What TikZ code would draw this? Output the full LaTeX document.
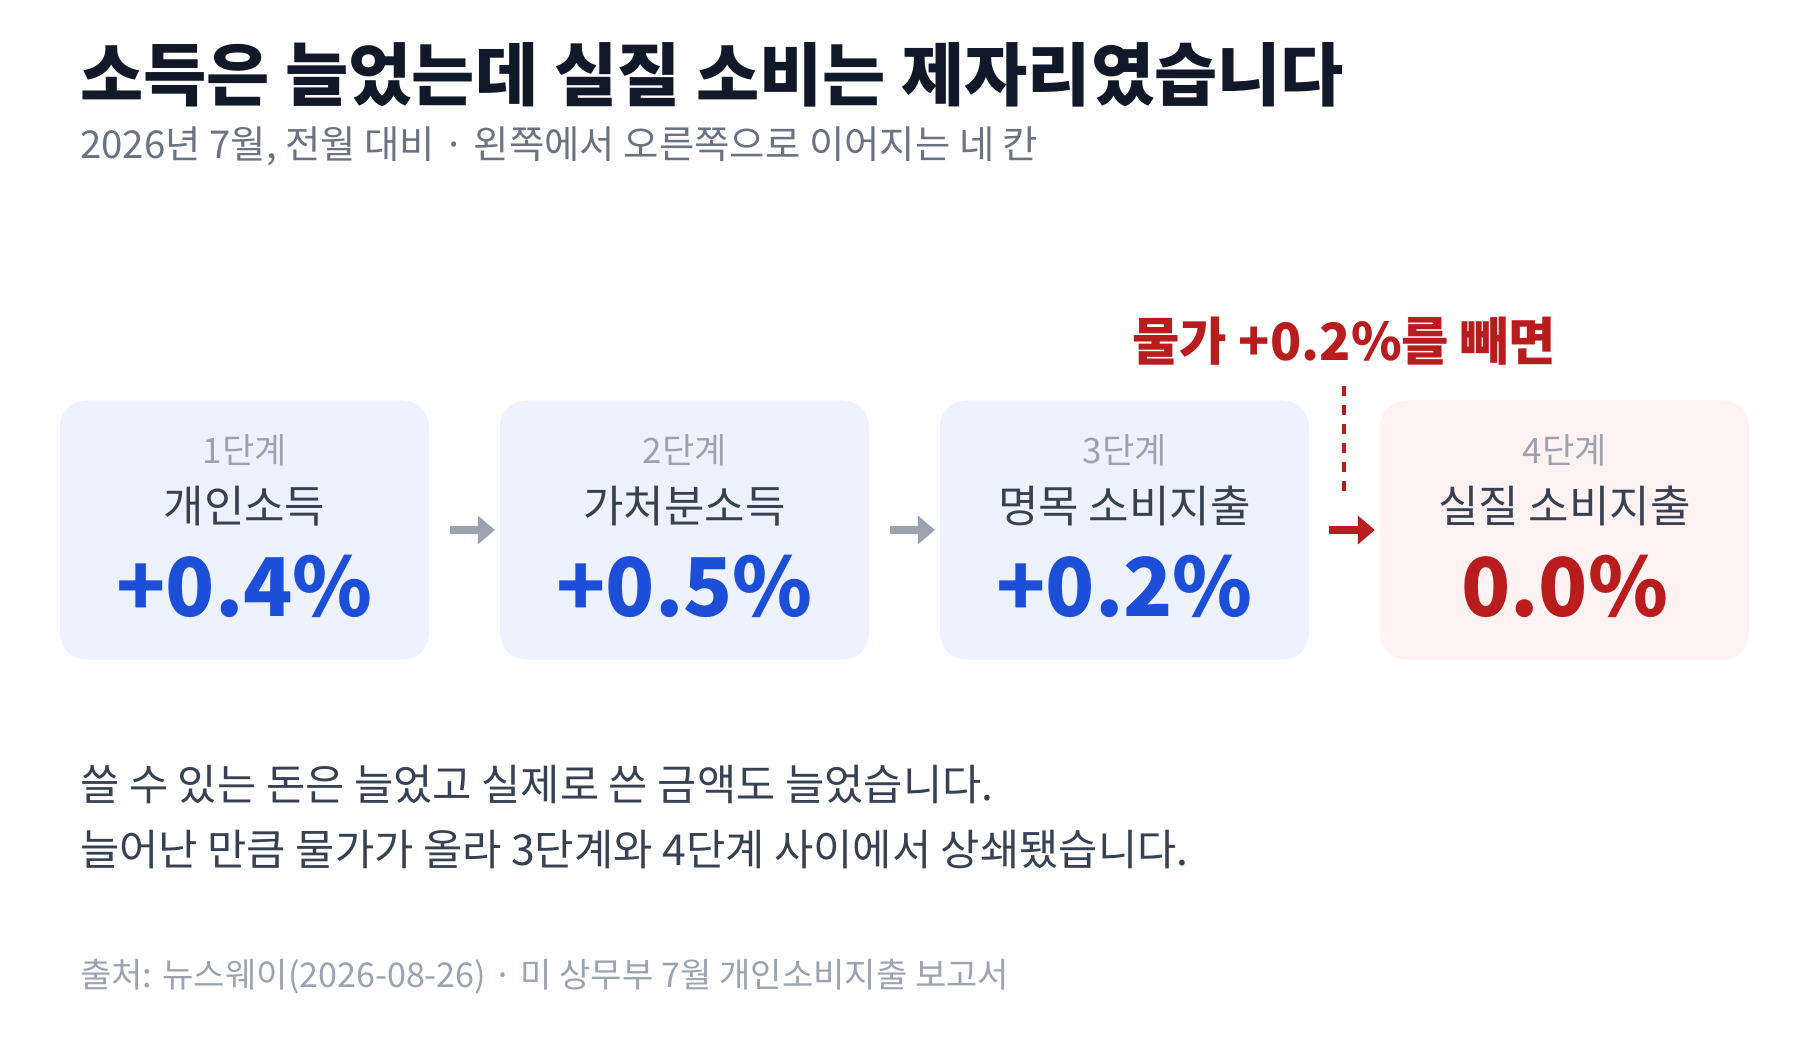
\documentclass[tikz,border=0pt]{standalone}
\usepackage{fontspec}
\setmainfont{Noto Sans CJK KR}
\usetikzlibrary{arrows.meta}
\definecolor{titlec}{HTML}{111827}
\definecolor{subc}{HTML}{6B7280}
\definecolor{bodyc}{HTML}{374151}
\definecolor{lightc}{HTML}{9CA3AF}
\definecolor{bluefill}{HTML}{EEF2FF}
\definecolor{redfill}{HTML}{FEF2F2}
\definecolor{bluec}{HTML}{1D4ED8}
\definecolor{redc}{HTML}{B91C1C}
\begin{document}
\begin{tikzpicture}[x=1pt,y=-1pt,
  card/.style={rounded corners=26pt, minimum width=369pt, minimum height=259pt, inner sep=0pt, draw=none},
  steplbl/.style={text=lightc, font=\fontsize{35}{42}\selectfont, inner sep=0pt},
  namelbl/.style={text=bodyc, font=\fontsize{44}{52}\selectfont, inner sep=0pt},
  numlbl/.style={font=\bfseries\fontsize{81}{96}\selectfont, inner sep=0pt},
  garrow/.style={draw=lightc, line width=8pt, -{Triangle[length=17pt,width=28pt]}},
  rarrow/.style={draw=redc, line width=8pt, -{Triangle[length=17pt,width=28pt]}},
  lefttext/.style={anchor=west, inner sep=0pt}
]
\useasboundingbox[fill=white] (0,0) rectangle (1800,1040);

\node[lefttext, text=titlec, font=\bfseries\fontsize{68.7}{80}\selectfont] (title) at (80,75) {소득은 늘었는데 실질 소비는 제자리였습니다};
\node[lefttext, text=subc, font=\fontsize{38.4}{46}\selectfont] (sub) at (80,146) {2026년 7월, 전월 대비 · 왼쪽에서 오른쪽으로 이어지는 네 칸};

\node[card, fill=bluefill] (b1) at (244.5,530) {};
\node[card, fill=bluefill] (b2) at (684.5,530) {};
\node[card, fill=bluefill] (b3) at (1124.5,530) {};
\node[card, fill=redfill] (b4) at (1564.5,530) {};

\node[steplbl] (s1) at (244.5,450) {1단계};
\node[namelbl] (n1) at (244.5,506) {개인소득};
\node[numlbl, text=bluec] (v1) at (244.5,586) {+0.4\%};

\node[steplbl] (s2) at (684.5,450) {2단계};
\node[namelbl] (n2) at (684.5,506) {가처분소득};
\node[numlbl, text=bluec] (v2) at (684.5,586) {+0.5\%};

\node[steplbl] (s3) at (1124.5,450) {3단계};
\node[namelbl] (n3) at (1124.5,506) {명목 소비지출};
\node[numlbl, text=bluec] (v3) at (1124.5,586) {+0.2\%};

\node[steplbl] (s4) at (1564.5,450) {4단계};
\node[namelbl] (n4) at (1564.5,506) {실질 소비지출};
\node[numlbl, text=redc] (v4) at (1564.5,586) {0.0\%};

\draw[garrow] ([xshift=21pt]b1.east) -- ([xshift=-5pt]b2.west);
\draw[garrow] ([xshift=21pt]b2.east) -- ([xshift=-5pt]b3.west);
\draw[rarrow] ([xshift=20pt]b3.east) -- ([xshift=-5pt]b4.west);

\node[text=redc, font=\bfseries\fontsize{51.5}{60}\selectfont, inner sep=0pt] (lbl) at (1344,341) {물가 +0.2\%를 빼면};
\coordinate (dashend) at (1344,494);
\draw[draw=redc, line width=3.5pt, dash pattern=on 10pt off 9pt] (1344,386) -- (dashend);

\node[lefttext, text=bodyc, font=\fontsize{42.7}{50}\selectfont] (body1) at (80,785) {쓸 수 있는 돈은 늘었고 실제로 쓴 금액도 늘었습니다.};
\node[lefttext, text=bodyc, font=\fontsize{42.7}{50}\selectfont] (body2) at (80,850) {늘어난 만큼 물가가 올라 3단계와 4단계 사이에서 상쇄됐습니다.};
\node[lefttext, text=lightc, font=\fontsize{34.1}{40}\selectfont] (src) at (80,977) {출처: 뉴스웨이(2026-08-26) · 미 상무부 7월 개인소비지출 보고서};
\end{tikzpicture}
\end{document}
